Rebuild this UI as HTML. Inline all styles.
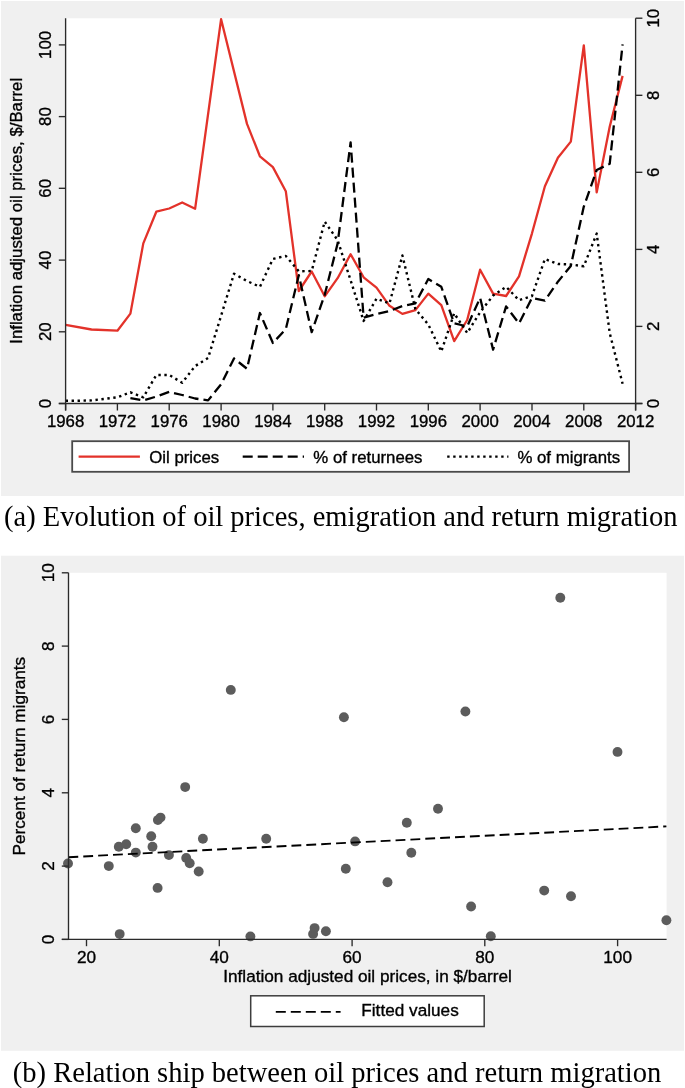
<!DOCTYPE html>
<html><head><meta charset="utf-8"><style>
html,body{margin:0;padding:0;background:#fff;}
body{width:685px;height:1088px;overflow:hidden;}
svg{display:block;will-change:transform;}
text{font-family:"Liberation Sans", sans-serif;fill:#000;stroke:#000;stroke-width:0.35px;}
.serif{font-family:"Liberation Serif", serif;stroke:none;}
</style></head><body>
<svg width="685" height="1088" viewBox="0 0 685 1088">
<rect x="1" y="1" width="683" height="495" fill="#f0f0f0"/>
<rect x="65.6" y="18.3" width="570.0" height="385.2" fill="#fff"/>
<polyline points="65.6,324.8 91.5,329.5 117.4,330.7 130.4,313.6 143.3,243.4 156.3,211.7 169.2,208.5 182.2,202.5 195.1,208.8 221.1,19.2 247.0,123.9 259.9,156.3 272.9,167.1 285.8,191.2 298.8,291.0 311.7,271.5 324.7,296.3 337.6,278.2 350.6,254.2 363.6,277.3 376.5,287.6 389.5,305.8 402.4,313.9 415.4,310.1 428.3,293.6 441.3,305.2 454.2,341.1 467.2,320.0 480.1,269.7 493.1,293.6 506.1,296.0 519.0,276.3 532.0,233.3 544.9,186.2 557.9,157.7 570.8,141.6 583.8,45.4 596.7,192.4 609.7,126.7 622.6,75.9" fill="none" stroke="#e3322a" stroke-width="2.3" stroke-linejoin="round"/>
<polyline points="130.4,398.1 143.3,400.4 156.3,396.6 169.2,391.9 182.2,395.0 195.1,398.5 208.1,400.4 221.1,384.2 234.0,358.4 247.0,368.8 259.9,313.0 272.9,343.0 285.8,329.1 298.8,275.2 311.7,332.2 324.7,294.8 337.6,243.6 350.6,142.3 363.6,317.6 376.5,314.1 389.5,311.0 402.4,306.0 415.4,303.3 428.3,279.0 441.3,286.8 454.2,323.4 467.2,326.4 480.1,297.9 493.1,349.6 506.1,306.4 519.0,323.4 532.0,297.9 544.9,300.6 557.9,281.7 570.8,265.9 583.8,206.6 596.7,170.0 609.7,163.8 622.6,44.4" fill="none" stroke="#000" stroke-width="2.3" stroke-dasharray="10.07 5.04 10.07 5.04 10.07 5.04 10.07 5.04 10.07 5.04 10.07 5.04 10.07 5.04 10.07 5.04 10.07 5.04 10.07 5.04 10.07 5.04 10.07 5.04 10.07 5.04 10.07 5.04 10.07 5.04 10.07 5.04 10.07 5.04 10.07 5.04 10.07 5.04 10.07 5.04 10.07 5.04 10.07 5.04 10.07 5.04 10.07 5.04 10.07 5.04 10.07 5.04 10.07 5.04 10.07 5.04 10.07 5.04 10.07 5.04 10.07 5.04 10.07 5.04 10.07 5.04 10.07 5.04 10.07 5.04 10.07 5.04 10.07 5.04 10.06 5.02 10.04 5.02 10.04 5.02 10.04 5.02 10.04 5.02 10.04 5.02 10.04 5.02 10.04 5.02 10.04 5.02 10.04 5.02 10.04 5.02 10.04 5.02 10.04 5.02 10.04 5.02 10.04 5.02 10.04 5.02 10.04 5.02 10.04 5.02 10.04 5.02 10.04 5.02 10.04 5.02 10.04 5.02 10.04 5.02 10.04 5.02 10.04 5.02 10.04 5.02 10.04 5.02 10.04 5.02 10.04 5.02 10.04 5.02 10.04 5.02 10.04 5.02 10.04 5.02 10.04 5.02 10.04 5.02 10.04 5.02 10.04 5.02 10.04 5.02 10.04 5.02 10.04 5.02 10.04 5.02 10.04 5.02 10.04 5.02 10.04 5.02 10.04 5.02 10.04 5.02 10.04 5.02 10.04 5.02 10.04 5.02 10.04 5.02 10.04 5.02 10.04 5.02 10.04 5.02 10.04 5.02 10.04" stroke-linejoin="round"/>
<polyline points="65.6,400.8 78.6,400.8 91.5,400.4 104.5,398.9 117.4,397.3 130.4,392.3 143.3,397.3 156.3,375.0 169.2,375.0 182.2,382.7 195.1,366.1 208.1,358.0 234.0,273.7 247.0,281.0 259.9,286.8 272.9,259.0 285.8,255.9 298.8,271.3 311.7,271.0 324.7,221.6 337.6,240.1 350.6,280.2 363.6,321.0 376.5,298.7 389.5,303.3 402.4,255.5 415.4,309.1 428.3,324.5 441.3,351.5 454.2,313.3 467.2,333.0 480.1,312.2 493.1,295.6 506.1,286.8 519.0,300.2 532.0,296.0 544.9,259.0 557.9,264.0 570.8,264.4 583.8,266.3 596.7,233.6 609.7,333.0 622.6,383.8" fill="none" stroke="#000" stroke-width="2.4" stroke-dasharray="2.39 3.59 2.39 3.59 2.39 3.59 2.39 3.59 2.39 3.59 2.39 3.59 2.39 3.59 2.39 3.59 2.39 3.59 2.39 3.59 2.39 3.59 2.39 3.59 2.39 3.59 2.39 3.59 2.39 3.59 2.39 3.59 2.39 3.59 2.39 3.59 2.39 3.59 2.39 3.59 2.39 3.59 2.39 3.59 2.39 3.59 2.39 3.59 2.39 3.59 2.39 3.59 2.39 3.59 2.39 3.59 2.39 3.59 2.39 3.59 2.39 3.59 2.39 3.59 2.39 3.59 2.39 3.59 2.39 3.59 2.39 3.59 2.39 3.59 2.39 3.59 2.39 3.59 2.39 3.59 2.39 3.59 2.39 3.59 2.39 3.59 2.41 3.66 2.44 3.66 2.44 3.66 2.44 3.66 2.44 3.66 2.44 3.66 2.44 3.66 2.44 3.66 2.44 3.66 2.44 3.66 2.44 3.66 2.44 3.66 2.44 3.66 2.44 3.66 2.44 3.66 2.44 3.66 2.44 3.66 2.44 3.66 2.44 3.66 2.44 3.66 2.44 3.66 2.44 3.66 2.44 3.66 2.44 3.66 2.44 3.66 2.44 3.65 2.37 3.55 2.37 3.55 2.37 3.55 2.37 3.55 2.37 3.55 2.37 3.55 2.37 3.55 2.37 3.55 2.37 3.55 2.37 3.55 2.37 3.55 2.37 3.55 2.37 3.55 2.37 3.55 2.37 3.55 2.37 3.55 2.37 3.55 2.37 3.55 2.37 3.55 2.37 3.55 2.37 3.55 2.37 3.55 2.37 3.55 2.37 3.55 2.37 3.55 2.37 3.55 2.37 3.55 2.37 3.55 2.37 3.55 2.37 3.55 2.37 3.55 2.37 3.55 2.37 3.55 2.38 3.58 2.39 3.58 2.39 3.58 2.39 3.58 2.39 3.58 2.39 3.58 2.39 3.58 2.39 3.58 2.39 3.58 2.39 3.58 2.39 3.58 2.39 3.58 2.39 3.58 2.39 3.58 2.39 3.58 2.39 3.58 2.39 3.58 2.39 3.58 2.39 3.58 2.39 3.58 2.39 3.58 2.39 3.58 2.39 3.58 2.39 3.58 2.39 3.58 2.39 3.58 2.39 3.58 2.39 3.58 2.39 3.58 2.39 3.58 2.39 3.58 2.39 3.58 2.39 3.58 2.39 3.58 2.39 3.58 2.39 3.58 2.39 3.58 2.39 3.58 2.39 3.58 2.39 3.58 2.39 3.58 2.39 3.58 2.39 3.58 2.39 3.58 2.39 3.58 2.39 3.58 2.39 3.58 2.39 3.58 2.39 3.58 2.39 3.58 2.39 3.58 2.39 3.58 2.39 3.58 2.39 3.58 2.39 3.58 2.39 3.58 2.39 3.58 2.39 3.58 2.39 3.58 2.39 3.58 2.39 3.58 2.39 3.58 2.39 3.58 2.40 3.65 2.44 3.65 2.44 3.65 2.44 3.65 2.44 3.65 2.44 3.65 2.44 3.65 2.44 3.65 2.44 3.65 2.44 3.65 2.44 3.65 2.44 3.65 2.44 3.65 2.44 3.65 2.44 3.65 2.44 3.65 2.44 3.65 2.44 3.65 2.44 3.65 2.44 3.65 2.44 3.65 2.44 3.65 2.44 3.65 2.44 3.65 2.44 3.65 2.44 3.65 2.44" stroke-linejoin="round"/>
<line x1="65.6" y1="18.3" x2="65.6" y2="410.5" stroke="#2a2a2a" stroke-width="1.35"/>
<line x1="635.6" y1="18.3" x2="635.6" y2="410.5" stroke="#2a2a2a" stroke-width="1.35"/>
<line x1="58.8" y1="403.5" x2="642.4" y2="403.5" stroke="#2a2a2a" stroke-width="1.35"/>
<line x1="58.8" y1="403.5" x2="65.6" y2="403.5" stroke="#2a2a2a" stroke-width="1.35"/>
<text transform="translate(51.40,403.50) rotate(-90) scale(1,0.95)" text-anchor="middle" font-size="16.8">0</text>
<line x1="58.8" y1="331.8" x2="65.6" y2="331.8" stroke="#2a2a2a" stroke-width="1.35"/>
<text transform="translate(51.40,331.78) rotate(-90) scale(1,0.95)" text-anchor="middle" font-size="16.8">20</text>
<line x1="58.8" y1="260.1" x2="65.6" y2="260.1" stroke="#2a2a2a" stroke-width="1.35"/>
<text transform="translate(51.40,260.06) rotate(-90) scale(1,0.95)" text-anchor="middle" font-size="16.8">40</text>
<line x1="58.8" y1="188.3" x2="65.6" y2="188.3" stroke="#2a2a2a" stroke-width="1.35"/>
<text transform="translate(51.40,188.34) rotate(-90) scale(1,0.95)" text-anchor="middle" font-size="16.8">60</text>
<line x1="58.8" y1="116.6" x2="65.6" y2="116.6" stroke="#2a2a2a" stroke-width="1.35"/>
<text transform="translate(51.40,116.62) rotate(-90) scale(1,0.95)" text-anchor="middle" font-size="16.8">80</text>
<line x1="58.8" y1="44.9" x2="65.6" y2="44.9" stroke="#2a2a2a" stroke-width="1.35"/>
<text transform="translate(51.40,44.90) rotate(-90) scale(1,0.95)" text-anchor="middle" font-size="16.8">100</text>
<line x1="635.6" y1="403.5" x2="642.4" y2="403.5" stroke="#2a2a2a" stroke-width="1.35"/>
<text transform="translate(659.00,403.50) rotate(-90) scale(1,0.95)" text-anchor="middle" font-size="16.8">0</text>
<line x1="635.6" y1="326.4" x2="642.4" y2="326.4" stroke="#2a2a2a" stroke-width="1.35"/>
<text transform="translate(659.00,326.44) rotate(-90) scale(1,0.95)" text-anchor="middle" font-size="16.8">2</text>
<line x1="635.6" y1="249.4" x2="642.4" y2="249.4" stroke="#2a2a2a" stroke-width="1.35"/>
<text transform="translate(659.00,249.38) rotate(-90) scale(1,0.95)" text-anchor="middle" font-size="16.8">4</text>
<line x1="635.6" y1="172.3" x2="642.4" y2="172.3" stroke="#2a2a2a" stroke-width="1.35"/>
<text transform="translate(659.00,172.32) rotate(-90) scale(1,0.95)" text-anchor="middle" font-size="16.8">6</text>
<line x1="635.6" y1="95.3" x2="642.4" y2="95.3" stroke="#2a2a2a" stroke-width="1.35"/>
<text transform="translate(659.00,95.26) rotate(-90) scale(1,0.95)" text-anchor="middle" font-size="16.8">8</text>
<line x1="635.6" y1="18.2" x2="642.4" y2="18.2" stroke="#2a2a2a" stroke-width="1.35"/>
<text transform="translate(659.00,18.20) rotate(-90) scale(1,0.95)" text-anchor="middle" font-size="16.8">10</text>
<line x1="65.6" y1="403.5" x2="65.6" y2="410.5" stroke="#2a2a2a" stroke-width="1.35"/>
<text transform="translate(65.60,427.00) scale(1,0.95)" text-anchor="middle" font-size="16.8">1968</text>
<line x1="117.4" y1="403.5" x2="117.4" y2="410.5" stroke="#2a2a2a" stroke-width="1.35"/>
<text transform="translate(117.42,427.00) scale(1,0.95)" text-anchor="middle" font-size="16.8">1972</text>
<line x1="169.2" y1="403.5" x2="169.2" y2="410.5" stroke="#2a2a2a" stroke-width="1.35"/>
<text transform="translate(169.24,427.00) scale(1,0.95)" text-anchor="middle" font-size="16.8">1976</text>
<line x1="221.1" y1="403.5" x2="221.1" y2="410.5" stroke="#2a2a2a" stroke-width="1.35"/>
<text transform="translate(221.05,427.00) scale(1,0.95)" text-anchor="middle" font-size="16.8">1980</text>
<line x1="272.9" y1="403.5" x2="272.9" y2="410.5" stroke="#2a2a2a" stroke-width="1.35"/>
<text transform="translate(272.87,427.00) scale(1,0.95)" text-anchor="middle" font-size="16.8">1984</text>
<line x1="324.7" y1="403.5" x2="324.7" y2="410.5" stroke="#2a2a2a" stroke-width="1.35"/>
<text transform="translate(324.69,427.00) scale(1,0.95)" text-anchor="middle" font-size="16.8">1988</text>
<line x1="376.5" y1="403.5" x2="376.5" y2="410.5" stroke="#2a2a2a" stroke-width="1.35"/>
<text transform="translate(376.51,427.00) scale(1,0.95)" text-anchor="middle" font-size="16.8">1992</text>
<line x1="428.3" y1="403.5" x2="428.3" y2="410.5" stroke="#2a2a2a" stroke-width="1.35"/>
<text transform="translate(428.33,427.00) scale(1,0.95)" text-anchor="middle" font-size="16.8">1996</text>
<line x1="480.1" y1="403.5" x2="480.1" y2="410.5" stroke="#2a2a2a" stroke-width="1.35"/>
<text transform="translate(480.15,427.00) scale(1,0.95)" text-anchor="middle" font-size="16.8">2000</text>
<line x1="532.0" y1="403.5" x2="532.0" y2="410.5" stroke="#2a2a2a" stroke-width="1.35"/>
<text transform="translate(531.96,427.00) scale(1,0.95)" text-anchor="middle" font-size="16.8">2004</text>
<line x1="583.8" y1="403.5" x2="583.8" y2="410.5" stroke="#2a2a2a" stroke-width="1.35"/>
<text transform="translate(583.78,427.00) scale(1,0.95)" text-anchor="middle" font-size="16.8">2008</text>
<line x1="635.6" y1="403.5" x2="635.6" y2="410.5" stroke="#2a2a2a" stroke-width="1.35"/>
<text transform="translate(635.60,427.00) scale(1,0.95)" text-anchor="middle" font-size="16.8">2012</text>
<text transform="translate(22.20,210.80) rotate(-90) scale(1,0.95)" text-anchor="middle" font-size="16.8">Inflation adjusted oil prices, $/Barrel</text>
<rect x="72.2" y="441.2" width="556.9" height="30.6" fill="#fff" stroke="#4a4a4a" stroke-width="1.8"/>
<line x1="78.6" y1="456.7" x2="139.9" y2="456.7" stroke="#e3322a" stroke-width="2.3"/>
<text transform="translate(149.20,463.00) scale(1,0.95)" font-size="16.8">Oil prices</text>
<line x1="242.7" y1="456.6" x2="304" y2="456.6" stroke="#000" stroke-width="2.3" stroke-dasharray="10 5"/>
<text transform="translate(313.30,463.00) scale(1,0.95)" font-size="16.8">% of returnees</text>
<line x1="447.2" y1="456.6" x2="508.4" y2="456.6" stroke="#000" stroke-width="2.4" stroke-dasharray="2.4 3.6"/>
<text transform="translate(517.40,463.00) scale(1,0.95)" font-size="16.8">% of migrants</text>
<text x="4.0" y="525.7" class="serif" font-size="28.5">(a) Evolution of oil prices, emigration and return migration</text>
<rect x="1" y="555.7" width="683" height="495.1" fill="#f0f0f0"/>
<rect x="68.5" y="572.8" width="598.1" height="366.6" fill="#fff"/>
<circle cx="68.0" cy="863.5" r="4.95" fill="#5c5c5c"/>
<circle cx="108.8" cy="866.1" r="4.95" fill="#5c5c5c"/>
<circle cx="118.8" cy="846.8" r="4.95" fill="#5c5c5c"/>
<circle cx="126.2" cy="844.2" r="4.95" fill="#5c5c5c"/>
<circle cx="135.8" cy="828.2" r="4.95" fill="#5c5c5c"/>
<circle cx="135.8" cy="852.6" r="4.95" fill="#5c5c5c"/>
<circle cx="119.7" cy="934.1" r="4.95" fill="#5c5c5c"/>
<circle cx="151.2" cy="836.2" r="4.95" fill="#5c5c5c"/>
<circle cx="152.5" cy="846.8" r="4.95" fill="#5c5c5c"/>
<circle cx="157.9" cy="820.1" r="4.95" fill="#5c5c5c"/>
<circle cx="160.5" cy="817.6" r="4.95" fill="#5c5c5c"/>
<circle cx="157.6" cy="887.9" r="4.95" fill="#5c5c5c"/>
<circle cx="168.9" cy="855.1" r="4.95" fill="#5c5c5c"/>
<circle cx="185.2" cy="787.1" r="4.95" fill="#5c5c5c"/>
<circle cx="186.2" cy="858.0" r="4.95" fill="#5c5c5c"/>
<circle cx="189.7" cy="863.2" r="4.95" fill="#5c5c5c"/>
<circle cx="198.7" cy="871.5" r="4.95" fill="#5c5c5c"/>
<circle cx="202.9" cy="838.8" r="4.95" fill="#5c5c5c"/>
<circle cx="266.2" cy="838.8" r="4.95" fill="#5c5c5c"/>
<circle cx="250.4" cy="936.4" r="4.95" fill="#5c5c5c"/>
<circle cx="230.8" cy="689.9" r="4.95" fill="#5c5c5c"/>
<circle cx="343.9" cy="717.2" r="4.95" fill="#5c5c5c"/>
<circle cx="313.1" cy="933.9" r="4.95" fill="#5c5c5c"/>
<circle cx="314.6" cy="928.1" r="4.95" fill="#5c5c5c"/>
<circle cx="325.9" cy="931.2" r="4.95" fill="#5c5c5c"/>
<circle cx="345.8" cy="868.7" r="4.95" fill="#5c5c5c"/>
<circle cx="355.1" cy="841.4" r="4.95" fill="#5c5c5c"/>
<circle cx="406.8" cy="822.8" r="4.95" fill="#5c5c5c"/>
<circle cx="411.3" cy="852.7" r="4.95" fill="#5c5c5c"/>
<circle cx="387.5" cy="882.2" r="4.95" fill="#5c5c5c"/>
<circle cx="560.3" cy="597.8" r="4.95" fill="#5c5c5c"/>
<circle cx="465.4" cy="711.5" r="4.95" fill="#5c5c5c"/>
<circle cx="617.5" cy="751.9" r="4.95" fill="#5c5c5c"/>
<circle cx="438.0" cy="808.8" r="4.95" fill="#5c5c5c"/>
<circle cx="471.1" cy="906.5" r="4.95" fill="#5c5c5c"/>
<circle cx="490.8" cy="936.3" r="4.95" fill="#5c5c5c"/>
<circle cx="544.2" cy="890.6" r="4.95" fill="#5c5c5c"/>
<circle cx="571.0" cy="896.2" r="4.95" fill="#5c5c5c"/>
<circle cx="666.4" cy="920.3" r="4.95" fill="#5c5c5c"/>
<line x1="68.4" y1="857.2" x2="666.4" y2="826.4" stroke="#000" stroke-width="1.9" stroke-dasharray="9.85 5.04"/>
<line x1="68.5" y1="572.8" x2="68.5" y2="939.4" stroke="#2a2a2a" stroke-width="1.35"/>
<line x1="61.8" y1="939.4" x2="666.6" y2="939.4" stroke="#2a2a2a" stroke-width="1.35"/>
<line x1="61.8" y1="939.4" x2="68.5" y2="939.4" stroke="#2a2a2a" stroke-width="1.35"/>
<text transform="translate(54.20,939.40) rotate(-90) scale(1,0.95)" text-anchor="middle" font-size="17.2">0</text>
<line x1="61.8" y1="866.1" x2="68.5" y2="866.1" stroke="#2a2a2a" stroke-width="1.35"/>
<text transform="translate(54.20,866.08) rotate(-90) scale(1,0.95)" text-anchor="middle" font-size="17.2">2</text>
<line x1="61.8" y1="792.8" x2="68.5" y2="792.8" stroke="#2a2a2a" stroke-width="1.35"/>
<text transform="translate(54.20,792.76) rotate(-90) scale(1,0.95)" text-anchor="middle" font-size="17.2">4</text>
<line x1="61.8" y1="719.4" x2="68.5" y2="719.4" stroke="#2a2a2a" stroke-width="1.35"/>
<text transform="translate(54.20,719.44) rotate(-90) scale(1,0.95)" text-anchor="middle" font-size="17.2">6</text>
<line x1="61.8" y1="646.1" x2="68.5" y2="646.1" stroke="#2a2a2a" stroke-width="1.35"/>
<text transform="translate(54.20,646.12) rotate(-90) scale(1,0.95)" text-anchor="middle" font-size="17.2">8</text>
<line x1="61.8" y1="572.8" x2="68.5" y2="572.8" stroke="#2a2a2a" stroke-width="1.35"/>
<text transform="translate(54.20,572.80) rotate(-90) scale(1,0.95)" text-anchor="middle" font-size="17.2">10</text>
<line x1="86.5" y1="939.4" x2="86.5" y2="946.2" stroke="#2a2a2a" stroke-width="1.35"/>
<text transform="translate(86.50,963.40) scale(1,0.95)" text-anchor="middle" font-size="17.2">20</text>
<line x1="219.3" y1="939.4" x2="219.3" y2="946.2" stroke="#2a2a2a" stroke-width="1.35"/>
<text transform="translate(219.28,963.40) scale(1,0.95)" text-anchor="middle" font-size="17.2">40</text>
<line x1="352.1" y1="939.4" x2="352.1" y2="946.2" stroke="#2a2a2a" stroke-width="1.35"/>
<text transform="translate(352.05,963.40) scale(1,0.95)" text-anchor="middle" font-size="17.2">60</text>
<line x1="484.8" y1="939.4" x2="484.8" y2="946.2" stroke="#2a2a2a" stroke-width="1.35"/>
<text transform="translate(484.82,963.40) scale(1,0.95)" text-anchor="middle" font-size="17.2">80</text>
<line x1="617.6" y1="939.4" x2="617.6" y2="946.2" stroke="#2a2a2a" stroke-width="1.35"/>
<text transform="translate(617.60,963.40) scale(1,0.95)" text-anchor="middle" font-size="17.2">100</text>
<text transform="translate(24.80,756.20) rotate(-90) scale(1,0.95)" text-anchor="middle" font-size="17.2">Percent of return migrants</text>
<text transform="translate(367.50,982.00) scale(1,0.95)" text-anchor="middle" font-size="17.2">Inflation adjusted oil prices, in $/barrel</text>
<rect x="250.7" y="995.8" width="233.5" height="30.7" fill="#fff" stroke="#3d3d3d" stroke-width="1.5"/>
<line x1="275.8" y1="1011.9" x2="340.6" y2="1011.9" stroke="#000" stroke-width="1.9" stroke-dasharray="10 5"/>
<text transform="translate(361.30,1015.70) scale(1,0.95)" font-size="17.2">Fitted values</text>
<text x="12.8" y="1081.7" class="serif" font-size="28.55">(b) Relation ship between oil prices and return migration</text>
</svg>
</body></html>
